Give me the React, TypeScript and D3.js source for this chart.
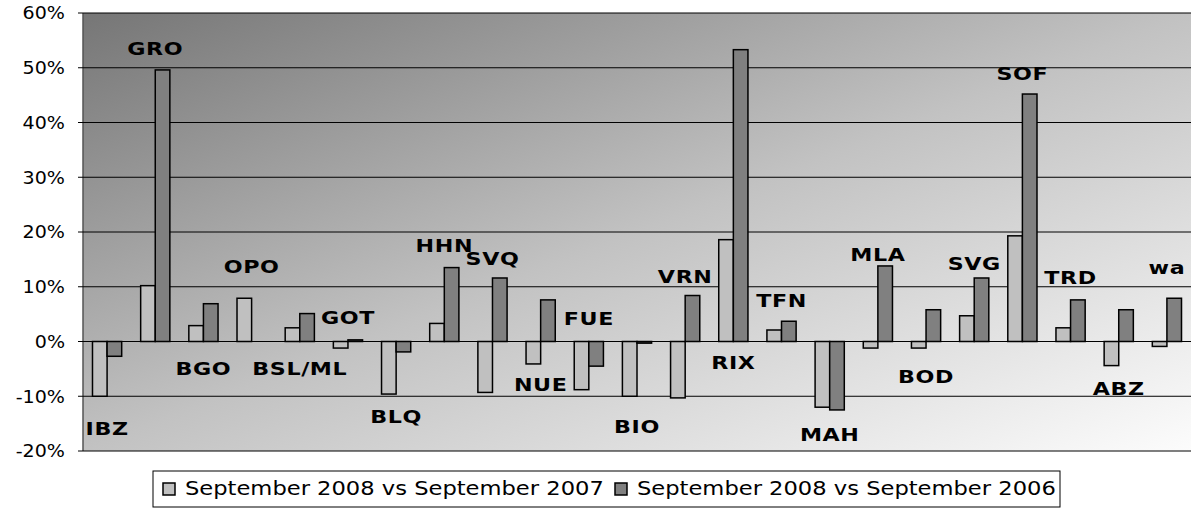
import React from 'react';
import * as d3 from 'd3';

// airport codes along the x axis
const airports = [
  'IBZ', 'GRO', 'BGO', 'OPO', 'BSL/ML', 'GOT', 'BLQ', 'HHN', 'SVQ', 'NUE', 'FUE', 'BIO',
  'VRN', 'RIX', 'TFN', 'MAH', 'MLA', 'BOD', 'SVG', 'SOF', 'TRD', 'ABZ', 'wa'
];

// change in %, Sep 2008 vs Sep 2007
const vs2007 = [
  -10, 10.2, 2.9, 7.9, 2.5, -1.2, -9.6, 3.3, -9.3, -4.1, -8.8, -10.0,
  -10.3, 18.6, 2.1, -12.0, -1.2, -1.2, 4.7, 19.3, 2.5, -4.4, -0.9
];

// change in %, Sep 2008 vs Sep 2006 (null = no bar)
const vs2006: (number | null)[] = [
  -2.7, 49.6, 6.9, null, 5.1, 0.3, -1.9, 13.5, 11.6, 7.6, -4.5, -0.3,
  8.4, 53.3, 3.7, -12.5, 13.8, 5.8, 11.6, 45.2, 7.6, 5.8, 7.9
];

// where each airport label sits, in % on the value axis
const labelLevel = [
  -16, 53.5, -4.9, 13.7, -4.9, 4.4, -13.8, 17.5, 15.1, -7.9, 4.1, -15.5,
  11.9, -3.9, 7.5, -17.0, 15.9, -6.5, 14.3, 48.9, 11.7, -8.6, 13.5
];

const yTicks = [-20, -10, 0, 10, 20, 30, 40, 50, 60];

const seriesNames = ['September 2008 vs September 2007', 'September 2008 vs September 2006'];
const seriesFill = ['#c0c0c0', '#808080'];

const W = 1192;
const H = 508;
const left = 83;
const right = 1191;
const top = 13;
const bottom = 451;
const SX = 1.2; // the original is stretched sideways

export default function App() {
  const x = d3.scaleBand<string>().domain(airports).range([left, right]).padding(0);
  const sub = d3.scaleBand<string>().domain(['a', 'b']).range([0, x.bandwidth()]).paddingInner(0).paddingOuter(0.65);
  const y = d3.scaleLinear().domain([-20, 60]).range([bottom, top]);
  const y0 = y(0);

  const bar = (v: number | null, i: number, k: 'a' | 'b', fill: string) => {
    if (v === null) return null;
    const bx = (x(airports[i]) as number) + (sub(k) as number);
    const yy = y(v);
    return (
      <rect
        key={k + i}
        x={bx}
        y={Math.min(yy, y0)}
        width={sub.bandwidth()}
        height={Math.max(Math.abs(yy - y0), 1)}
        fill={fill}
        stroke="#000"
        strokeWidth={1.5}
      />
    );
  };

  const txt = (s: string, tx: number, ty: number, sx: number, props: any) => (
    <text transform={`translate(${tx},${ty}) scale(${sx},1)`} dominantBaseline="central" {...props}>
      {s}
    </text>
  );

  return (
    <svg width={W} height={H} style={{ position: 'absolute', left: 0, top: 0 }} fontFamily="DejaVu Sans, Verdana, sans-serif">
      <defs>
        <linearGradient id="bg" x1="0" y1="0" x2="1" y2="1">
          <stop offset="0" stopColor="#767676" />
          <stop offset="0.5" stopColor="#c2c2c2" />
          <stop offset="1" stopColor="#fcfcfc" />
        </linearGradient>
      </defs>
      <rect x={left} y={top} width={right - left} height={bottom - top} fill="url(#bg)" />
      <line x1={left} x2={left} y1={top} y2={bottom} stroke="#555" strokeWidth={1.5} />

      {yTicks.map(t => (
        <g key={t}>
          <line x1={left} x2={right} y1={y(t)} y2={y(t)} stroke="#000" strokeWidth={1} />
          <line x1={left - 5} x2={left} y1={y(t)} y2={y(t)} stroke="#000" strokeWidth={1} />
          {txt(`${t}%`, 65, y(t), 1.06, { textAnchor: 'end', fontSize: 18, fill: '#000' })}
        </g>
      ))}

      {vs2007.map((v, i) => bar(v, i, 'a', seriesFill[0]))}
      {vs2006.map((v, i) => bar(v, i, 'b', seriesFill[1]))}

      {airports.map((a, i) =>
        <g key={a}>
          {txt(a, (x(a) as number) + x.bandwidth() / 2, y(labelLevel[i]), SX, {
            textAnchor: 'middle', fontSize: 18.5, fontWeight: 'bold', letterSpacing: 0.5, fill: '#000'
          })}
        </g>
      )}

      <rect x={153} y={471} width={907} height={36} fill="#fff" stroke="#000" strokeWidth={1} />
      {seriesNames.map((n, i) => {
        const sx = i === 0 ? 163 : 615;
        return (
          <g key={n}>
            <rect x={sx} y={483} width={12} height={12} fill={seriesFill[i]} stroke="#000" strokeWidth={1.5} />
            {txt(n, sx + 22, 489, 1.19, { fontSize: 19, fill: '#000' })}
          </g>
        );
      })}
    </svg>
  );
}
